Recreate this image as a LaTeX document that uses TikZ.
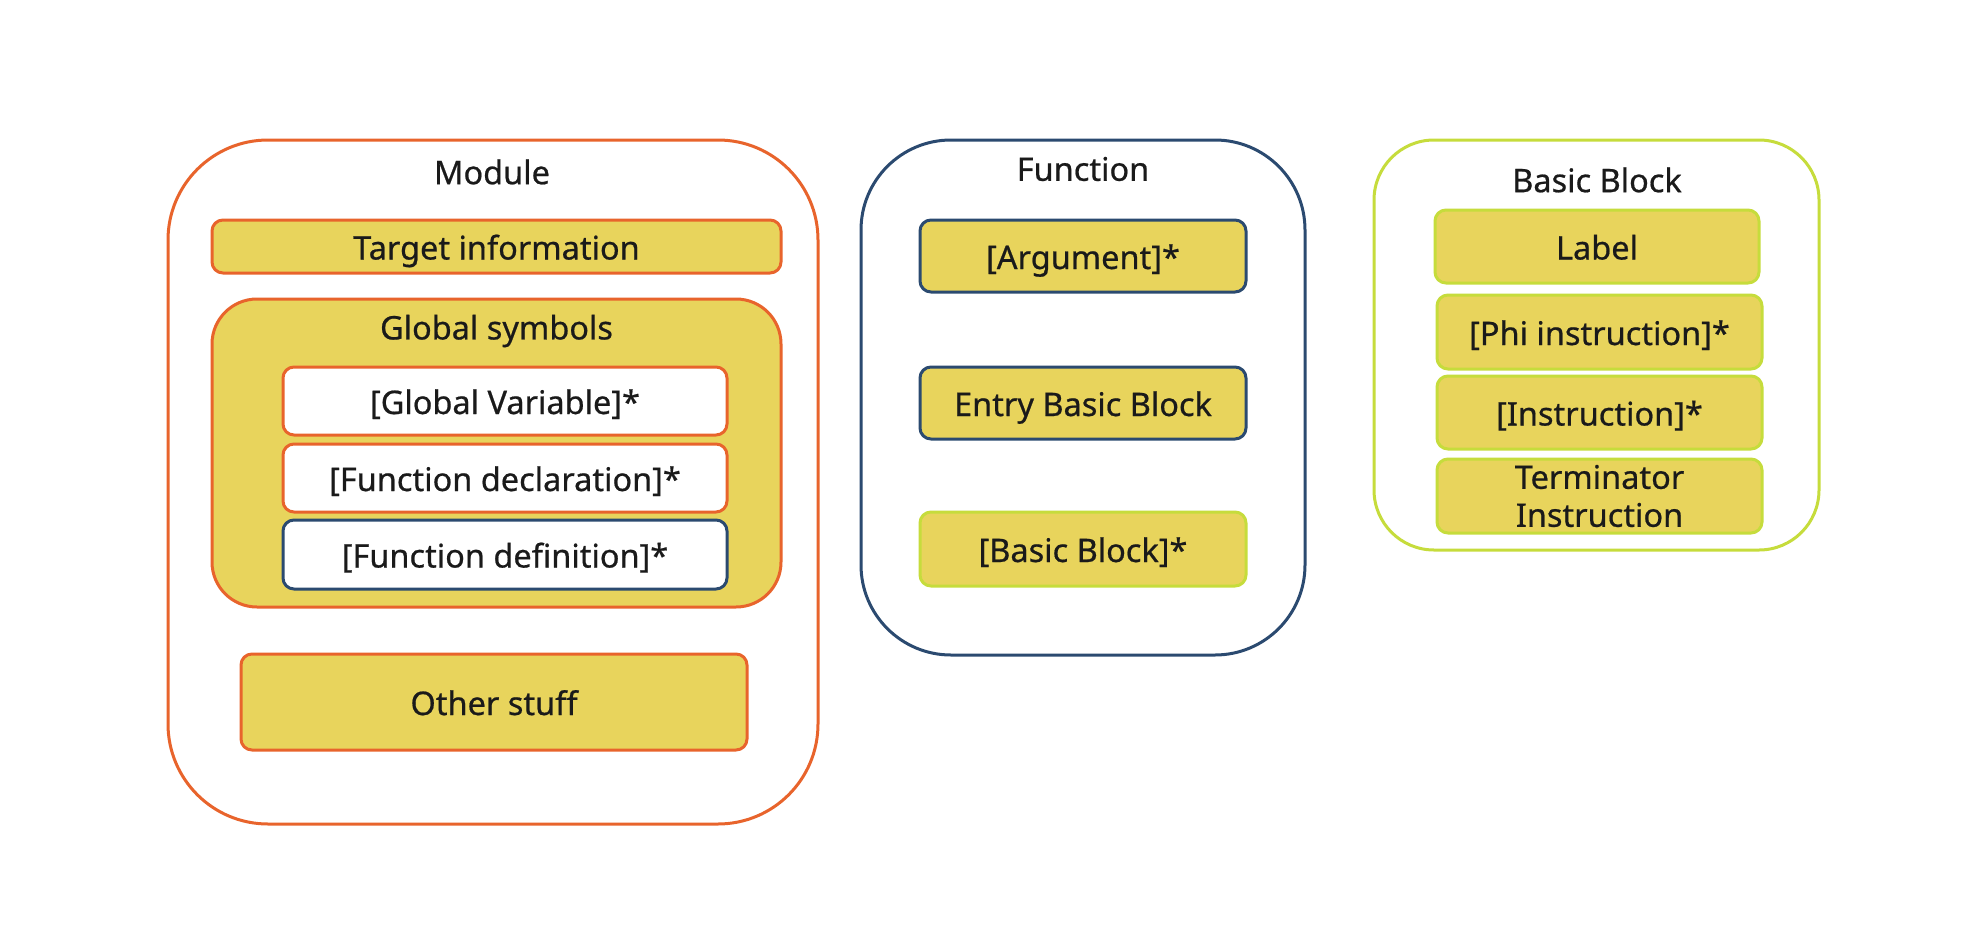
\documentclass[tikz,border=0pt]{standalone}
\usepackage{fontspec}
\setmainfont{Noto Sans}[FakeBold=0.6]
\definecolor{orng}{HTML}{E8642C}
\definecolor{ylw}{HTML}{E8D45C}
\definecolor{navy}{HTML}{2B4A70}
\definecolor{lime}{HTML}{C6DC3C}
\definecolor{txt}{HTML}{1A1A1A}
\tikzset{
  outerbox/.style={draw, line width=3pt, fill=white, rounded corners=#1, inner sep=0pt, outer sep=0pt},
  itembox/.style={draw, line width=3pt, rounded corners=11pt, inner sep=0pt, outer sep=0pt, font=\fontsize{32.5}{38}\selectfont, text=txt, align=center},
  oneline/.style={text height=26pt, text depth=0pt},
  ttl/.style={font=\fontsize{32.5}{38}\selectfont, text=txt, inner sep=0pt}
}
\begin{document}
\begin{tikzpicture}[x=1pt,y=-1pt]
\useasboundingbox (0,0) rectangle (1979,929);
% Module
\node[outerbox=100pt, draw=orng, minimum width=650pt, minimum height=684pt] (mod) at (493,482) {};
\node[ttl] (modt) at (492,172) {Module};
\node[itembox, oneline, draw=orng, fill=ylw, minimum width=569pt, minimum height=53pt] (tgt) at (496.5,246.5) {Target information};
\node[outerbox=45pt, draw=orng, fill=ylw, minimum width=569pt, minimum height=308pt] (glob) at (496.5,453) {};
\node[ttl] (globt) at (496.5,331) {Global symbols};
\node[itembox, oneline, draw=orng, fill=white, minimum width=444pt, minimum height=68pt] (gv) at (505,401) {[Global Variable]*};
\node[itembox, oneline, draw=orng, fill=white, minimum width=444pt, minimum height=68pt] (fdecl) at (505,478) {[Function declaration]*};
\node[itembox, oneline, draw=navy, fill=white, minimum width=444pt, minimum height=69pt] (fdef) at (505,554.5) {[Function definition]*};
\node[itembox, oneline, draw=orng, fill=ylw, minimum width=506pt, minimum height=96pt] (oth) at (494,702) {Other stuff};
% Function
\node[outerbox=90pt, draw=navy, minimum width=444pt, minimum height=515pt] (fun) at (1083,397.5) {};
\node[ttl] (funt) at (1083,169) {Function};
\node[itembox, oneline, draw=navy, fill=ylw, minimum width=326pt, minimum height=72pt] (arg) at (1083,256) {[Argument]*};
\node[itembox, oneline, draw=navy, fill=ylw, minimum width=326pt, minimum height=72pt] (ebb) at (1083,403) {Entry Basic Block};
\node[itembox, oneline, draw=lime, fill=ylw, minimum width=326pt, minimum height=74pt] (bbs) at (1083,549) {[Basic Block]*};
% Basic Block
\node[outerbox=60pt, draw=lime, minimum width=445pt, minimum height=410pt] (bb) at (1596.5,345) {};
\node[ttl] (bbt) at (1597,180) {Basic Block};
\node[itembox, oneline, draw=lime, fill=ylw, minimum width=324pt, minimum height=73pt] (lab) at (1597,246.5) {Label};
\node[itembox, oneline, draw=lime, fill=ylw, minimum width=325pt, minimum height=74pt] (phi) at (1599.5,332) {[Phi instruction]*};
\node[itembox, oneline, draw=lime, fill=ylw, minimum width=325pt, minimum height=73pt] (ins) at (1599.5,412.5) {[Instruction]*};
\node[itembox, draw=lime, fill=ylw, minimum width=325pt, minimum height=74pt] (term) at (1599.5,496) {Terminator\\Instruction};
\end{tikzpicture}
\end{document}
